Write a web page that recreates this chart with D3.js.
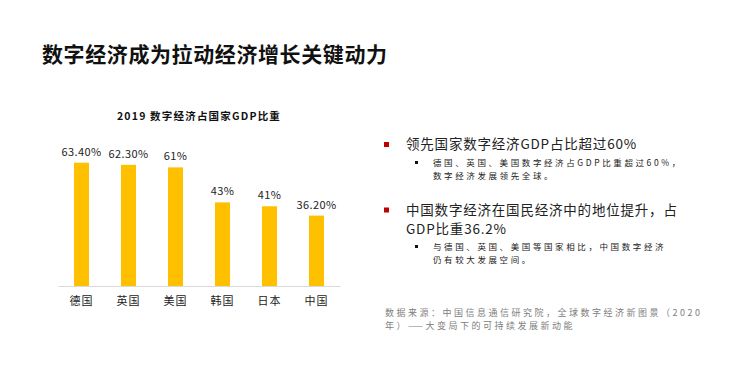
<!DOCTYPE html>
<html>
<head>
<meta charset="utf-8">
<script src="https://cdn.jsdelivr.net/npm/d3@7"></script>
<style>
  body { margin: 0; background: #fff; }
  svg { display: block; font-family: "Noto Sans CJK SC", "Noto Sans", sans-serif; }
</style>
</head>
<body>
<div id="chart"></div>
<script>
// data
var countries = ["德国", "英国", "美国", "韩国", "日本", "中国"];
var shares = [63.4, 62.3, 61, 43, 41, 36.2];
var shareLabels = ["63.40%", "62.30%", "61%", "43%", "41%", "36.20%"];

var pageTitle = "数字经济成为拉动经济增长关键动力";
var chartTitle = "2019 数字经济占国家GDP比重";

var bullets = [
  { lines: ["领先国家数字经济GDP占比超过60%"],
    sub: ["德国、英国、美国数字经济占GDP比重超过60%，", "数字经济发展领先全球。"] },
  { lines: ["中国数字经济在国民经济中的地位提升，占", "GDP比重36.2%"],
    sub: ["与德国、英国、美国等国家相比，中国数字经济", "仍有较大发展空间。"] }
];
var sourceLines = ["数据来源：中国信息通信研究院，全球数字经济新图景（2020", "年）——大变局下的可持续发展新动能"];

var W = 735, H = 376;
var svg = d3.select("#chart").append("svg")
    .attr("width", W)
    .attr("height", H);

// page title
svg.append("text")
    .attr("x", 42)
    .attr("y", 62)
    .attr("font-size", 21)
    .attr("font-weight", "bold")
    .attr("letter-spacing", 0.6)
    .attr("fill", "#111")
    .text(pageTitle);

// bar chart
var x = d3.scaleBand()
    .domain(countries)
    .range([58, 340])
    .paddingInner(0.68)
    .paddingOuter(0.34);

var y = d3.scaleLinear()
    .domain([0, 70])
    .range([286, 286 - 70 * 1.945]);

svg.append("text")
    .attr("x", 199)
    .attr("y", 120)
    .attr("text-anchor", "middle")
    .attr("font-size", 10.5)
    .attr("font-weight", "bold")
    .attr("letter-spacing", 1.2)
    .attr("fill", "#111")
    .text(chartTitle);

var data = countries.map(function (c, i) {
  return { name: c, value: shares[i], label: shareLabels[i] };
});

svg.selectAll(".bar")
    .data(data)
  .enter().append("rect")
    .attr("class", "bar")
    .attr("x", function (d) { return x(d.name); })
    .attr("y", function (d) { return y(d.value); })
    .attr("width", x.bandwidth())
    .attr("height", function (d) { return y(0) - y(d.value); })
    .attr("fill", "#FFC000");

svg.selectAll(".vlabel")
    .data(data)
  .enter().append("text")
    .attr("class", "vlabel")
    .attr("x", function (d) { return x(d.name) + x.bandwidth() / 2; })
    .attr("y", function (d) { return y(d.value) - 7; })
    .attr("text-anchor", "middle")
    .attr("font-size", 11)
    .attr("letter-spacing", 0.4)
    .attr("fill", "#222")
    .text(function (d) { return d.label; });

var xAxis = svg.append("g")
    .attr("transform", "translate(0," + y(0) + ")")
    .call(d3.axisBottom(x).tickSize(0).tickPadding(11));
xAxis.select(".domain").attr("stroke", "#d9d9d9");
xAxis.selectAll("text")
    .attr("font-size", 11)
    .attr("fill", "#222")
    .attr("letter-spacing", 1)
    .style("font-family", "'Noto Sans CJK SC', sans-serif");

// multi-line text as one <text> with tspans
function block(px, py, lines, gap, size, spacing, color) {
  var t = svg.append("text")
      .attr("x", px)
      .attr("y", py)
      .attr("font-size", size)
      .attr("letter-spacing", spacing)
      .attr("fill", color);
  lines.forEach(function (s, i) {
    t.append("tspan")
        .attr("x", px)
        .attr("dy", i === 0 ? 0 : gap)
        .text(s);
  });
}

// bullet text on the right
var mainY = [149, 214.5], subY = [166, 250];
bullets.forEach(function (b, bi) {
  var by = mainY[bi];
  svg.append("rect")
      .attr("x", 384)
      .attr("y", by - 7)
      .attr("width", 5)
      .attr("height", 5)
      .attr("fill", "#C00000");
  block(406, by, b.lines, 19.8, 13.5, 0.8, "#222");
  var sy = subY[bi];
  svg.append("rect")
      .attr("x", 415)
      .attr("y", sy - 5)
      .attr("width", 3)
      .attr("height", 3)
      .attr("fill", "#111");
  block(433, sy, b.sub, 12.6, 8.5, 2.6, "#222");
});

block(385, 316, sourceLines, 13.2, 9, 2.5, "#808080");
</script>
</body>
</html>
